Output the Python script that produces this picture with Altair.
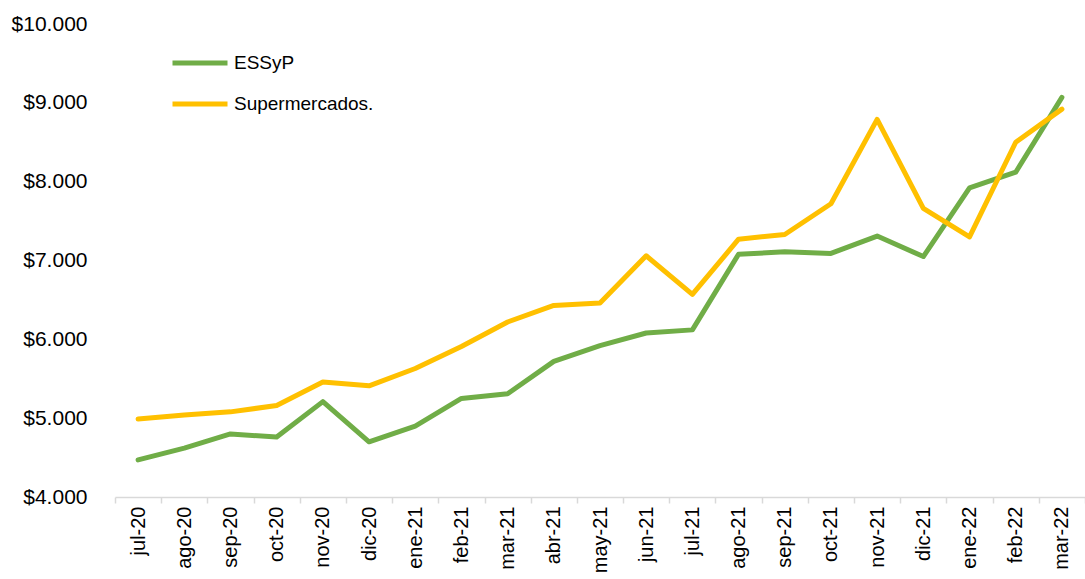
import altair as alt
import pandas as pd

months = ["jul-20", "ago-20", "sep-20", "oct-20", "nov-20", "dic-20", "ene-21",
          "feb-21", "mar-21", "abr-21", "may-21", "jun-21", "jul-21", "ago-21",
          "sep-21", "oct-21", "nov-21", "dic-21", "ene-22", "feb-22", "mar-22"]

essyp = [4470, 4620, 4800, 4760, 5210, 4700, 4900, 5250, 5310, 5720, 5920,
         6080, 6120, 7080, 7110, 7090, 7310, 7050, 7920, 8120, 9070]

super_vals = [4990, 5040, 5080, 5160, 5460, 5410, 5630, 5910, 6220, 6430, 6460,
              7060, 6570, 7270, 7330, 7720, 8790, 7660, 7300, 8500, 8920]

series_names = ["ESSyP", "Supermercados."]
series_colors = ["#70AD47", "#FFC000"]

rows = []
for i, m in enumerate(months):
    rows.append({"mes": m, "serie": series_names[0], "valor": essyp[i], "orden": 0})
    rows.append({"mes": m, "serie": series_names[1], "valor": super_vals[i], "orden": 1})
df = pd.DataFrame(rows)

FONT = "Liberation Sans"

chart = alt.Chart(df).mark_line(strokeWidth=5, strokeCap="round", strokeJoin="round").encode(
    x=alt.X("mes:N", sort=months, title=None,
            scale=alt.Scale(paddingInner=0, paddingOuter=0),
            axis=alt.Axis(labelAngle=-90, labelAlign="right", labelBaseline="middle",
                          labelFont=FONT, labelFontSize=20, labelColor="#000000",
                          labelPadding=3, tickBand="extent", tickSize=6,
                          tickColor="#D9D9D9", domainColor="#D9D9D9", domainWidth=1.5,
                          tickWidth=1.5, grid=False)),
    y=alt.Y("valor:Q", title=None,
            scale=alt.Scale(domain=[4000, 10000], nice=False, zero=False),
            axis=alt.Axis(values=[4000, 5000, 6000, 7000, 8000, 9000, 10000],
                          labelExpr='"$" + replace(format(datum.value, ","), ",", ".")',
                          labelFont=FONT, labelFontSize=21, labelColor="#000000",
                          labelPadding=28, ticks=False, domain=False, grid=False)),
    color=alt.Color("serie:N", sort=series_names,
                    scale=alt.Scale(domain=series_names, range=series_colors),
                    legend=alt.Legend(title=None, orient="none", legendX=55, legendY=9,
                                      symbolType="stroke", symbolSize=3025,
                                      symbolStrokeWidth=5, labelFont=FONT,
                                      labelFontSize=19, labelColor="#000000",
                                      labelOffset=4, rowPadding=1)),
    order="orden:Q"
).properties(
    width=970,
    height=473,
    padding={"left": 115, "top": 24, "right": 0, "bottom": 82},
    autosize=alt.AutoSizeParams(type="none")
).configure(background="white").configure_view(stroke=None)

chart.save("out.html", embed_options={"renderer": "svg", "actions": False})
